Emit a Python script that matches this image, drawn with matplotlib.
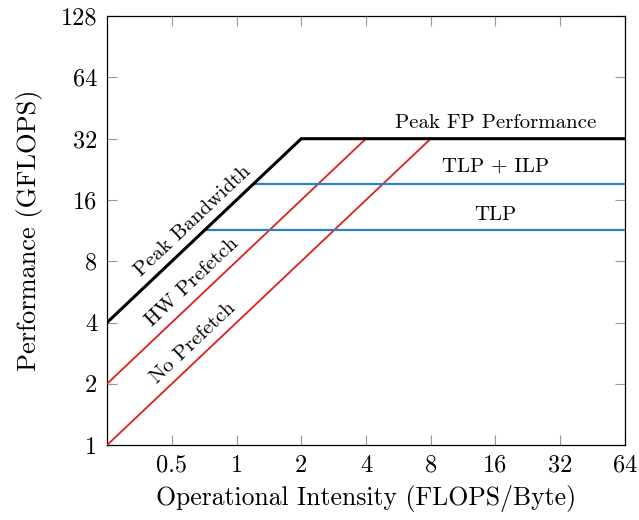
import matplotlib
matplotlib.use("Agg")
import matplotlib.pyplot as plt
import numpy as np

plt.rcParams['font.family'] = ['cmr10', 'DejaVu Serif']
plt.rcParams['mathtext.fontset'] = 'cm'
plt.rcParams['axes.unicode_minus'] = False

# data
x_ticks = [0.5, 1, 2, 4, 8, 16, 32, 64]
y_ticks = [1, 2, 4, 8, 16, 32, 64, 128]
x_min, x_max = 0.25, 64
peak_fp = 32.0
peak_bw = 16.0          # GFLOPS per FLOP/Byte
hw_prefetch_bw = 8.0
no_prefetch_bw = 4.0
tlp_ilp = 19.2
tlp = 11.4

fig = plt.figure(figsize=(6.39, 5.2), dpi=100)
ax = fig.add_axes([0.1675, 0.144, 0.8105, 0.825])
ax.set_xscale('log', base=2)
ax.set_yscale('log', base=2)

# roofline (black)
x_ridge = peak_fp / peak_bw
ax.plot([x_min, x_ridge, x_max], [peak_bw * x_min, peak_fp, peak_fp],
        color='black', lw=2.2, solid_joinstyle='miter', zorder=4)
# red bandwidth lines
for bw in (hw_prefetch_bw, no_prefetch_bw):
    xr = peak_fp / bw
    ax.plot([x_min, xr], [bw * x_min, peak_fp], color='#dd1f1f', lw=1.3, zorder=3)
# blue compute ceilings
for c in (tlp_ilp, tlp):
    ax.plot([c / peak_bw, x_max], [c, c], color='#2e7fc0', lw=1.6, zorder=3)

ax.set_xlim(x_min, x_max)
ax.set_ylim(1, 128)
ax.set_xticks(x_ticks)
ax.set_xticklabels([str(v) for v in x_ticks])
ax.set_yticks(y_ticks)
ax.set_yticklabels([str(v) for v in y_ticks])
ax.minorticks_off()
ax.tick_params(direction='in', top=True, right=True, length=7, width=0.8,
               color='#999999', labelsize=17.5, pad=7)
for s in ax.spines.values():
    s.set_linewidth(0.9)

ax.set_xlabel('Operational Intensity (FLOPS/Byte)', fontsize=18.5, labelpad=6)
ax.set_ylabel('Performance (GFLOPS)', fontsize=19, labelpad=13)

ang = 43.4
fs = 15
ax.text(0.628, 12.6, 'Peak Bandwidth', rotation=ang, ha='center', va='center',
        fontsize=fs, rotation_mode='anchor')
ax.text(0.624, 6.32, 'HW Prefetch', rotation=ang, ha='center', va='center',
        fontsize=fs, rotation_mode='anchor')
ax.text(0.631, 3.17, 'No Prefetch', rotation=ang, ha='center', va='center',
        fontsize=fs, rotation_mode='anchor')
ax.text(16, 38.1, 'Peak FP Performance', ha='center', va='center', fontsize=fs)
ax.text(16, 23.3, 'TLP + ILP', ha='center', va='center', fontsize=fs)
ax.text(16, 13.5, 'TLP', ha='center', va='center', fontsize=fs)

fig.savefig('out.png', dpi=100)
